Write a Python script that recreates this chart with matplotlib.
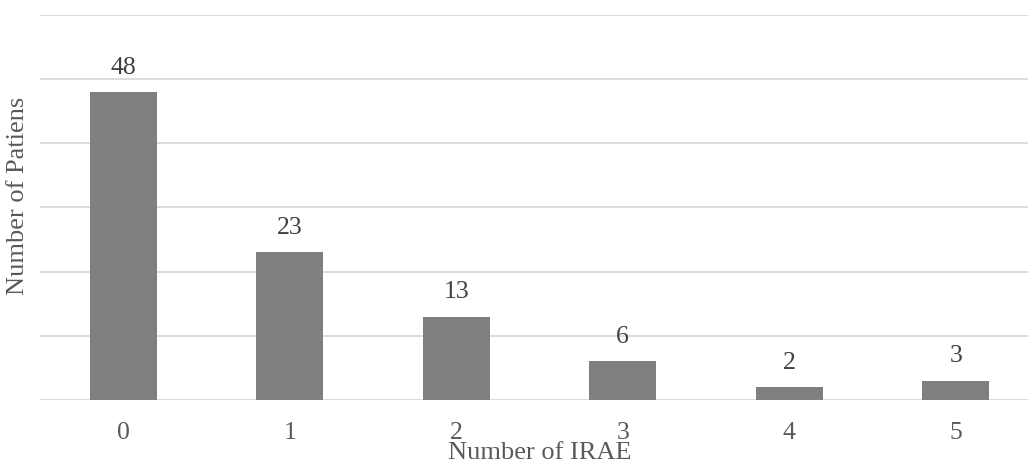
import matplotlib
matplotlib.use("Agg")
import matplotlib.pyplot as plt

categories = ["0", "1", "2", "3", "4", "5"]
patients = [48, 23, 13, 6, 2, 3]

plt.rcParams["font.family"] = ["Liberation Serif", "DejaVu Serif"]

fig = plt.figure(figsize=(10.28, 4.68), dpi=100)
W, H = 1028, 468
left, right = 40, 1039
bottom, top = 400, 14.8
ax = fig.add_axes([left / W, 1 - bottom / H, (right - left) / W, (bottom - top) / H])

x = list(range(len(categories)))
ax.bar(x, patients, width=0.4, color="#7f7f7f", zorder=3)

ax.set_xlim(-0.5, len(categories) - 0.5)
ax.set_ylim(0, 60)
ax.set_yticks(range(0, 61, 10))
ax.yaxis.grid(True, color="#d9d9d9", linewidth=1.3, zorder=0)
ax.tick_params(axis="y", left=False, labelleft=False)
ax.tick_params(axis="x", bottom=False, labelsize=18.5, labelcolor="#595959", pad=12)
ax.set_xticks(x)
ax.set_xticklabels(categories)
for s in ax.spines.values():
    s.set_visible(False)

for xi, v in zip(x, patients):
    ax.annotate(str(v), (xi, v), xytext=(0, 17.5), textcoords="offset points",
                ha="center", va="center", fontsize=18.5, color="#404040")

fig.text(540 / W, 1 - 453 / H, "Number of IRAE", ha="center", va="center",
         fontsize=19, color="#595959")
fig.text(18 / W, 1 - 196 / H, "Number of Patiens", ha="center", va="center",
         rotation=90, fontsize=19, color="#595959")

fig.savefig("out.png", dpi=100)
